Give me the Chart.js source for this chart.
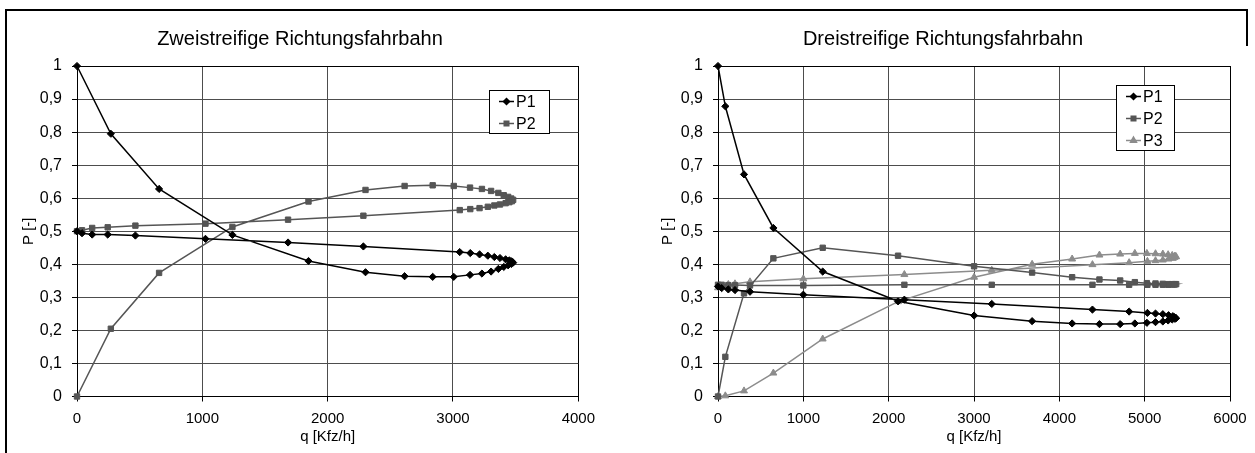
<!DOCTYPE html>
<html>
<head>
<meta charset="utf-8">
<script src="https://cdn.jsdelivr.net/npm/chart.js@4/dist/chart.umd.min.js"></script>
<style>
  body { margin: 0; background: #fff; width: 1255px; height: 453px; overflow: hidden; position: relative; }
  canvas { position: absolute; top: 0; }
  .frame { position: absolute; background: #000; }
</style>
</head>
<body>
<canvas id="left" width="603" height="453" style="left:0"></canvas>
<canvas id="right" width="635" height="453" style="left:620px"></canvas>
<div class="frame" style="left:5px;top:9px;width:1243px;height:2px"></div>
<div class="frame" style="left:5px;top:9px;width:2px;height:444px"></div>
<div class="frame" style="left:1246px;top:9px;width:2px;height:37px"></div>
<script>
// tick labels (German decimal comma)
const yTickLabels = ['0', '0,1', '0,2', '0,3', '0,4', '0,5', '0,6', '0,7', '0,8', '0,9', '1'];
const xTickLabelsLeft = ['0', '1000', '2000', '3000', '4000'];
const xTickLabelsRight = ['0', '1000', '2000', '3000', '4000', '5000', '6000'];

// Zweistreifige Richtungsfahrbahn: q [Kfz/h] along the curve, then P1 / P2
const qLeft = [0, 270, 655, 1240, 1847, 2302, 2614, 2838, 3006, 3136, 3231, 3304, 3362, 3405, 3440, 3465, 3480,
  3470, 3450, 3420, 3375, 3330, 3278, 3212, 3138, 3054, 2285, 1684, 1025, 466, 245, 121, 40, 0];
const p1Left = [1.0, 0.795, 0.628, 0.489, 0.41, 0.376, 0.364, 0.362, 0.362, 0.368, 0.372, 0.378, 0.386, 0.392, 0.397, 0.401, 0.405,
  0.409, 0.412, 0.415, 0.419, 0.422, 0.426, 0.43, 0.434, 0.437, 0.454, 0.466, 0.477, 0.487, 0.49, 0.49, 0.494, 0.5];
const p2Left = [0, 0.205, 0.374, 0.513, 0.59, 0.625, 0.637, 0.639, 0.637, 0.632, 0.628, 0.622, 0.616, 0.609, 0.604, 0.599, 0.595,
  0.591, 0.588, 0.585, 0.581, 0.578, 0.574, 0.57, 0.567, 0.564, 0.547, 0.535, 0.523, 0.517, 0.512, 0.51, 0.503, 0.5];

// Dreistreifige Richtungsfahrbahn
const qRight = [0, 86, 305, 649, 1227, 2110, 3001, 3681, 4150, 4470, 4713, 4885, 5026, 5127, 5213, 5275, 5323, 5355, 5369,
  5350, 5330, 5280, 5213, 5127, 5032, 4818, 4388, 3208, 2184, 1000, 375, 199, 121, 43, 0];
const p1Right = [1.0, 0.878, 0.672, 0.51, 0.378, 0.288, 0.245, 0.228, 0.221, 0.219, 0.219, 0.221, 0.223, 0.225, 0.227, 0.23, 0.233, 0.235, 0.237,
  0.24, 0.243, 0.246, 0.249, 0.251, 0.253, 0.257, 0.263, 0.28, 0.293, 0.308, 0.317, 0.322, 0.324, 0.328, 0.333];
const p2Right = [0, 0.12, 0.312, 0.418, 0.45, 0.426, 0.394, 0.375, 0.361, 0.354, 0.351, 0.346, 0.343, 0.342, 0.341, 0.34, 0.34, 0.34, 0.34,
  0.339, 0.339, 0.338, 0.338, 0.338, 0.338, 0.338, 0.338, 0.338, 0.338, 0.336, 0.336, 0.337, 0.337, 0.338, 0.338];
const p3Right = [0, 0.002, 0.017, 0.071, 0.174, 0.287, 0.361, 0.4, 0.416, 0.428, 0.431, 0.433, 0.433, 0.432, 0.431, 0.429, 0.427, 0.425, 0.423,
  0.421, 0.418, 0.416, 0.413, 0.411, 0.409, 0.405, 0.399, 0.382, 0.369, 0.356, 0.347, 0.341, 0.339, 0.334, 0.329];

const FONT = 'Liberation Sans, Arial, sans-serif';
const GRID = '#4d4d4d';

const styles = {
  P1: { color: '#000', pointStyle: 'rectRot', radius: 3.6 },
  P2: { color: '#555', pointStyle: 'rect', radius: 3.8 },
  P3: { color: '#8c8c8c', pointStyle: 'triangle', radius: 4 },
};

// little boxed legend inside the plot area, like the original
const legendBox = {
  id: 'legendBox',
  afterDraw(chart, args, opts) {
    const { ctx, chartArea } = chart;
    const x = Math.round(chartArea.left + opts.dx), y = Math.round(chartArea.top + opts.dy);
    ctx.save();
    ctx.fillStyle = '#fff';
    ctx.fillRect(x, y, opts.w, opts.h);
    ctx.strokeStyle = '#000';
    ctx.lineWidth = 1;
    ctx.strokeRect(x + 0.5, y + 0.5, opts.w, opts.h);
    chart.data.datasets.forEach((ds, i) => {
      const cy = y + 11.5 + i * 22;
      ctx.strokeStyle = ds.borderColor;
      ctx.lineWidth = 1.5;
      ctx.beginPath();
      ctx.moveTo(x + 10, cy);
      ctx.lineTo(x + 25, cy);
      ctx.stroke();
      ctx.fillStyle = ds.backgroundColor;
      Chart.helpers.drawPoint(ctx, { pointStyle: ds.pointStyle, radius: ds.pointRadius - 0.6, borderWidth: 1 }, x + 17.5, cy);
      ctx.fillStyle = '#000';
      ctx.font = '16px ' + FONT;
      ctx.textBaseline = 'middle';
      ctx.textAlign = 'left';
      ctx.fillText(ds.label, x + 27, cy + 1);
    });
    ctx.restore();
  }
};

function makeChart(id, cfg) {
  const datasets = cfg.series.map(s => ({
    label: s.label,
    data: cfg.q.map((q, i) => ({ x: q, y: s.values[i] })),
    showLine: true,
    borderColor: styles[s.label].color,
    backgroundColor: styles[s.label].color,
    borderWidth: 1.5,
    pointStyle: styles[s.label].pointStyle,
    pointRadius: styles[s.label].radius,
    pointHoverRadius: styles[s.label].radius,
    pointBorderWidth: 1,
    clip: false,
  }));

  return new Chart(document.getElementById(id), {
    type: 'scatter',
    data: { datasets },
    plugins: [legendBox],
    options: {
      responsive: false,
      animation: false,
      devicePixelRatio: 1,
      layout: { padding: { left: cfg.padLeft, right: cfg.padRight, top: 0, bottom: 0 } },
      plugins: {
        legend: { display: false },
        tooltip: { enabled: false },
        title: {
          display: true,
          text: cfg.title,
          color: '#000',
          font: { family: FONT, size: 20, weight: 'normal' },
          padding: { top: 27, bottom: 15 },
        },
        legendBox: cfg.legend,
      },
      scales: {
        x: {
          type: 'linear',
          min: 0,
          max: cfg.xMax,
          ticks: {
            stepSize: 1000,
            autoSkip: false,
            maxRotation: 0,
            padding: 8,
            color: '#000',
            font: { family: FONT, size: 15 },
            callback: (v, i) => cfg.xLabels[i],
          },
          grid: {
            color: c => (c.tick && c.tick.value === cfg.xMax ? '#000' : GRID),
            tickColor: '#000',
            tickLength: 5,
          },
          border: { color: '#000', width: 1 },
          title: {
            display: true,
            text: 'q [Kfz/h]',
            color: '#000',
            font: { family: FONT, size: 15 },
            padding: { top: 0, bottom: 7 },
          },
          afterFit: s => { s.height = 56.5; },
        },
        y: {
          min: 0,
          max: 1,
          ticks: {
            stepSize: 0.1,
            padding: 10,
            color: '#000',
            font: { family: FONT, size: 16 },
            callback: (v, i) => yTickLabels[i],
          },
          grid: {
            color: c => (c.tick && c.tick.value >= 0.999 ? '#000' : GRID),
            tickColor: '#000',
            tickLength: 5,
          },
          border: { color: '#000', width: 1 },
          title: {
            display: true,
            text: 'P [-]',
            color: '#000',
            font: { family: FONT, size: 15 },
            padding: { top: 3, bottom: 0 },
          },
          afterFit: s => { s.width = cfg.yAxisWidth; },
        },
      },
    },
  });
}

makeChart('left', {
  title: 'Zweistreifige Richtungsfahrbahn',
  q: qLeft,
  series: [
    { label: 'P1', values: p1Left },
    { label: 'P2', values: p2Left },
  ],
  xMax: 4000,
  xLabels: xTickLabelsLeft,
  padLeft: 17,
  padRight: 20,
  yAxisWidth: 60,
  legend: { dx: 412, dy: 24, w: 60, h: 43 },
});

makeChart('right', {
  title: 'Dreistreifige Richtungsfahrbahn',
  q: qRight,
  series: [
    { label: 'P1', values: p1Right },
    { label: 'P2', values: p2Right },
    { label: 'P3', values: p3Right },
  ],
  xMax: 6000,
  xLabels: xTickLabelsRight,
  padLeft: 36,
  padRight: 25,
  yAxisWidth: 62,
  legend: { dx: 398, dy: 19, w: 58, h: 65 },
});
</script>
</body>
</html>
